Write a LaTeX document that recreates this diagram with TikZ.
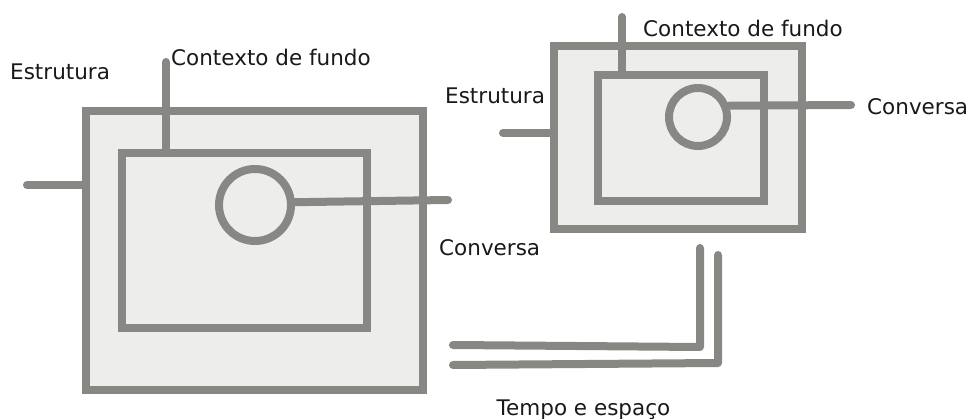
\documentclass[tikz,border=0pt]{standalone}
\usepackage{fontspec}
\setmainfont{DejaVu Sans}
\begin{document}
\begin{tikzpicture}[x=1pt,y=-1pt,
  stroke/.style={draw=linegray,line width=8pt},
  box/.style={stroke,fill=boxfill,rectangle,inner sep=0pt},
  ring/.style={stroke,fill=boxfill,circle,inner sep=0pt},
  conn/.style={draw=linegray,line width=8pt,line cap=round},
  lbl/.style={inner sep=0pt,font=\fontsize{21.5}{25}\selectfont,text=black!90}]
\definecolor{linegray}{HTML}{878884}
\definecolor{boxfill}{HTML}{EDEDEB}
\useasboundingbox (0,0) rectangle (969,419);
% left figure
\node[box,minimum width=337pt,minimum height=279pt] (outL) at (254.5,250.5) {};
\node[box,minimum width=245pt,minimum height=175pt] (inL) at (244.5,240.5) {};
\node[ring,minimum size=72pt] (circL) at (255,205) {};
\coordinate (estL) at (27,185);
\coordinate (ctxL) at (166,62);
\coordinate (cvL) at (448,200);
\draw[conn] (estL) -- (estL -| outL.west);
\draw[conn] (ctxL) -- (ctxL |- inL.north);
\draw[conn] (circL.4) -- (cvL);
\node[lbl,anchor=west] (tEstL) at (10,72) {Estrutura};
\node[lbl,anchor=west] (tCtxL) at (171,57) {Contexto de fundo};
\node[lbl,anchor=west] (tCvL) at (439,248) {Conversa};
% right figure
\node[box,minimum width=248pt,minimum height=183pt] (outR) at (678,137.5) {};
\node[box,minimum width=166pt,minimum height=126pt] (inR) at (681,138) {};
\node[ring,minimum size=58pt] (circR) at (698,117) {};
\coordinate (estR) at (503,133);
\coordinate (ctxR) at (622,17);
\coordinate (cvR) at (851,105);
\draw[conn] (estR) -- (estR -| outR.west);
\draw[conn] (ctxR) -- (ctxR |- inR.north);
\draw[conn] (circR.20) -- (cvR);
\node[lbl,anchor=west] (tEstR) at (445,96) {Estrutura};
\node[lbl,anchor=west] (tCtxR) at (643,28) {Contexto de fundo};
\node[lbl,anchor=west] (tCvR) at (867,107) {Conversa};
% time and space
\coordinate (a1) at (453,345);
\coordinate (b1) at (700,347);
\coordinate (c1) at (700,248);
\coordinate (a2) at (453,365);
\coordinate (b2) at (718,363);
\coordinate (c2) at (718,255);
\draw[conn,line join=round] (a1) -- (b1) -- (c1);
\draw[conn,line join=round] (a2) -- (b2) -- (c2);
\node[lbl,anchor=base] (tTime) at (583.5,415) {Tempo e espaço};
\end{tikzpicture}
\end{document}
